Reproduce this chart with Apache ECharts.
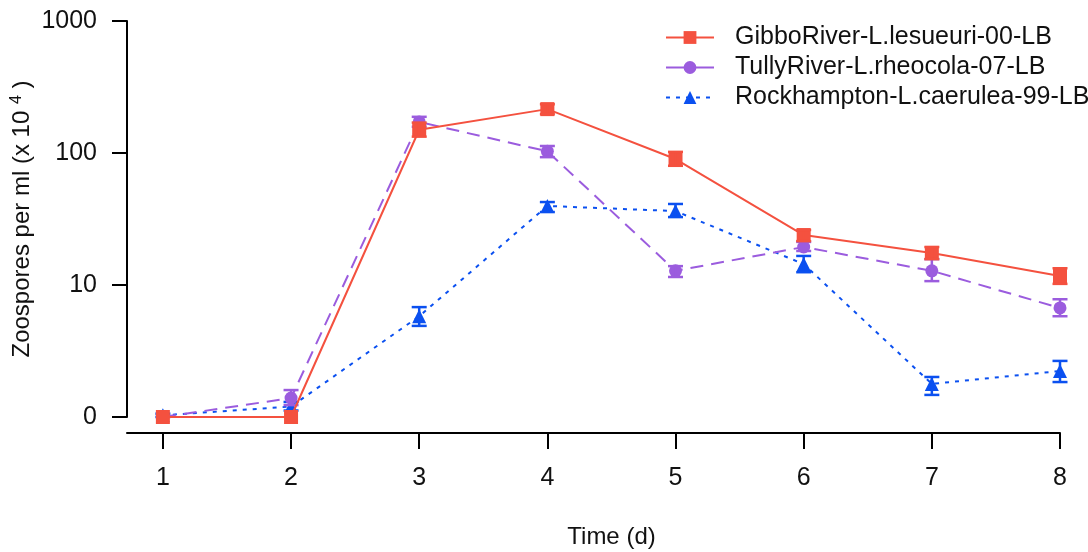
<!DOCTYPE html>
<html><head><meta charset="utf-8">
<script src="https://cdn.jsdelivr.net/npm/echarts@6/dist/echarts.min.js"></script>
<style>html,body{margin:0;padding:0;background:#fff}#c{width:1088px;height:552px}</style>
</head><body><div id="c"></div>
<script>
// Time (days)
const days = [1, 2, 3, 4, 5, 6, 7, 8];
const seriesNames = ['GibboRiver-L.lesueuri-00-LB', 'TullyRiver-L.rheocola-07-LB', 'Rockhampton-L.caerulea-99-LB'];
// Zoospores per ml (x 10^4); zero counts sit on the axis floor (labelled "0")
const gibboMean = [1, 1, 150, 215, 90, 23.9, 17.5, 11.7];
const gibboLow  = [1, 1, 133, 197, 80, 21.5, 15.7, 10.2];
const gibboHigh = [1, 1, 170, 234, 102, 26.1, 19.4, 13.4];
const tullyMean = [1, 1.39, 172, 103, 12.8, 19.4, 12.8, 6.7];
const tullyLow  = [1, 1.23, 158, 93, 11.5, 18.1, 10.7, 5.8];
const tullyHigh = [1, 1.6, 188, 113, 13.9, 21.2, 15.7, 7.8];
const rockMean  = [1.03, 1.2, 5.8, 39.7, 36.3, 14.4, 1.78, 2.23];
const rockLow   = [1, 1.12, 4.9, 35.7, 32.7, 12.5, 1.47, 1.84];
const rockHigh  = [1.06, 1.3, 6.8, 42.5, 41.1, 16.6, 2.01, 2.66];
// y tick values and their labels
const yTickValues = [1, 10, 100, 1000];
const yTickLabels = ['0', '10', '100', '1000'];

const colors = ['#F4513F', '#9B5CDE', '#0B50F0'];
const FONT = 'Liberation Sans, Arial, sans-serif';

function pts(mean) { return days.map((d, i) => [d, mean[i]]); }
function errs(lo, hi) { return days.map((d, i) => [d, lo[i], hi[i]]); }

function errRender(color) {
  return function (params, api) {
    const x = api.value(0), lo = api.value(1), hi = api.value(2);
    const a = api.coord([x, lo]), b = api.coord([x, hi]);
    if (Math.abs(a[1] - b[1]) < 2) return;
    const w = 7.5, st = { stroke: color, lineWidth: 2.5 };
    return {
      type: 'group', children: [
        { type: 'line', shape: { x1: a[0], y1: a[1], x2: b[0], y2: b[1] }, style: st },
        { type: 'line', shape: { x1: a[0] - w, y1: a[1], x2: a[0] + w, y2: a[1] }, style: st },
        { type: 'line', shape: { x1: b[0] - w, y1: b[1], x2: b[0] + w, y2: b[1] }, style: st }
      ]
    };
  };
}

const means = [gibboMean, tullyMean, rockMean];
const lows = [gibboLow, tullyLow, rockLow];
const highs = [gibboHigh, tullyHigh, rockHigh];
const symbols = ['rect', 'circle', 'triangle'];
const symSizes = [14, 13, 14];
const dashes = ['solid', [13, 8], [4, 6]];
const zs = [6, 4, 2];

const series = [];
for (let k = 0; k < 3; k++) {
  series.push({
    name: seriesNames[k], type: 'line', data: pts(means[k]),
    symbol: symbols[k], symbolSize: symSizes[k], showSymbol: true,
    itemStyle: { color: colors[k] },
    lineStyle: { color: colors[k], width: 2, type: dashes[k] },
    z: zs[k], silent: true
  });
  series.push({
    name: 'err' + k, type: 'custom', data: errs(lows[k], highs[k]),
    renderItem: errRender(colors[k]), encode: { x: 0, y: [1, 2] },
    z: zs[k] + 1, silent: true
  });
}

const chart = echarts.init(document.getElementById('c'), null, { renderer: 'canvas' });
chart.setOption({
  animation: false,
  backgroundColor: '#fff',
  textStyle: { fontFamily: FONT },
  grid: { left: 127, right: 28, top: 21, bottom: 135, containLabel: false, outerBoundsMode: 'none' },
  legend: {
    orient: 'vertical', left: 665, top: 25, padding: 0,
    itemWidth: 48, itemHeight: 16, itemGap: 5,
    textStyle: { fontSize: 25, color: '#111', lineHeight: 24, fontFamily: FONT, padding: [0, 0, 0, 16] },
    data: [
      { name: seriesNames[0] },
      { name: seriesNames[1], lineStyle: { type: 'solid' } },
      { name: seriesNames[2] }
    ]
  },
  xAxis: {
    type: 'value', min: 0.72, max: 8, position: 'bottom', offset: 16,
    axisLine: { show: true, lineStyle: { color: '#000', width: 2 } },
    axisTick: { show: true, customValues: days, length: 16, lineStyle: { color: '#000', width: 2 } },
    axisLabel: { customValues: days, margin: 33, fontSize: 25, color: '#111', fontFamily: FONT },
    splitLine: { show: false },
    name: 'Time (d)', nameLocation: 'middle', nameGap: 92, nameMoveOverlap: false,
    nameTextStyle: { fontSize: 24, color: '#111', fontFamily: FONT, padding: [0, 0, 0, 36] }
  },
  yAxis: {
    type: 'log', logBase: 10, min: 1, max: 1000,
    axisLine: { show: true, lineStyle: { color: '#000', width: 2 } },
    axisTick: { show: true, length: 15, lineStyle: { color: '#000', width: 2 } },
    axisLabel: {
      margin: 30, fontSize: 25, color: '#111', fontFamily: FONT,
      formatter: v => { const i = yTickValues.indexOf(Math.round(v)); return i >= 0 ? yTickLabels[i] : ''; }
    },
    splitLine: { show: false },
    name: '{a|Zoospores per ml (x 10 }{s|4}{a| )}', nameLocation: 'middle', nameGap: 92, nameRotate: 90,
    nameMoveOverlap: false,
    nameTextStyle: {
      fontFamily: FONT, color: '#111',
      rich: { a: { fontSize: 24, color: '#111', fontFamily: FONT, lineHeight: 26 }, s: { fontSize: 16, color: '#111', fontFamily: FONT, verticalAlign: 'top', lineHeight: 26 } }
    }
  },
  series: series
});
</script>
</body></html>
